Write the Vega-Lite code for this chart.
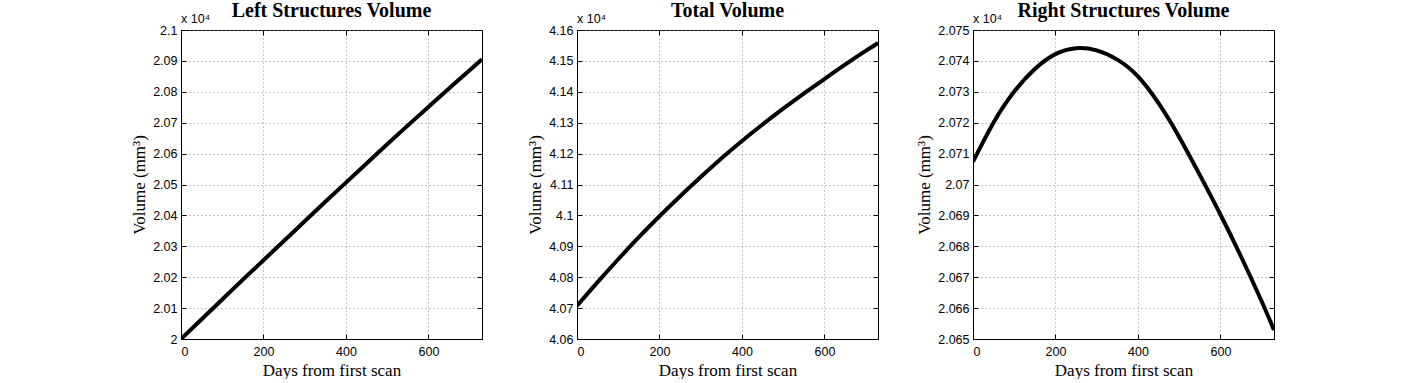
{
  "$schema": "https://vega.github.io/schema/vega-lite/v6.json",
  "background": "white",
  "padding": {"left": 130, "top": 0, "right": 0, "bottom": 0},
  "spacing": 95,
  "bounds": "flush",
  "config": {
    "view": {"stroke": "black", "strokeWidth": 1},
    "axis": {
      "domainColor": "black", "tickColor": "black", "labelColor": "black", "titleColor": "black",
      "labelFont": "Liberation Sans", "labelFontSize": 12.5,
      "titleFont": "Liberation Serif", "titleFontSize": 17, "titleFontWeight": "normal",
      "gridColor": "#8a8a8a", "gridDash": [1, 3], "gridOpacity": 1, "gridWidth": 1,
      "tickSize": -5, "labelPadding": 9, "titlePadding": 4
    },
    "axisX": {"labelPadding": 11, "titlePadding": 5},
    "title": {"font": "Liberation Serif", "fontSize": 20, "fontWeight": "bold", "color": "black", "anchor": "middle", "offset": -8}
  },
  "datasets": {
    "d": [
      {"day": 0, "left": 20000, "total": 40707.4, "right": 20707.4},
      {"day": 50, "left": 20064, "total": 40784.1, "right": 20720.1},
      {"day": 100, "left": 20128, "total": 40858.1, "right": 20730.1},
      {"day": 150, "left": 20192, "total": 40929.4, "right": 20737.4},
      {"day": 200, "left": 20255, "total": 40997.2, "right": 20742.2},
      {"day": 250, "left": 20318, "total": 41062.1, "right": 20744.1},
      {"day": 300, "left": 20381, "total": 41124.4, "right": 20743.4},
      {"day": 350, "left": 20444, "total": 41184.4, "right": 20740.4},
      {"day": 400, "left": 20506, "total": 41241.0, "right": 20735.0},
      {"day": 450, "left": 20568, "total": 41294.3, "right": 20726.3},
      {"day": 500, "left": 20630, "total": 41345.4, "right": 20715.4},
      {"day": 550, "left": 20691, "total": 41394.1, "right": 20703.1},
      {"day": 600, "left": 20751, "total": 41441.3, "right": 20690.3},
      {"day": 650, "left": 20811, "total": 41487.7, "right": 20676.7},
      {"day": 700, "left": 20870, "total": 41532.2, "right": 20662.2},
      {"day": 730, "left": 20905, "total": 41557.9, "right": 20652.9}
    ],
    "m1": [{"day": 0, "v": 21000}],
    "m2": [{"day": 0, "v": 41600}],
    "m3": [{"day": 0, "v": 20750}]
  },
  "hconcat": [
    {
      "width": 301, "height": 309,
      "title": "Left Structures Volume",
      "layer": [
        {
          "data": {"name": "d"},
          "mark": {"type": "line", "color": "black", "strokeWidth": 4, "interpolate": "natural", "clip": true},
          "encoding": {
            "x": {"field": "day", "type": "quantitative", "scale": {"domain": [0, 730], "nice": false, "zero": false},
                  "axis": {"orient": "bottom", "values": [0, 200, 400, 600], "title": "Days from first scan", "grid": true}},
            "y": {"field": "left", "type": "quantitative", "scale": {"domain": [20000, 21000], "nice": false, "zero": false},
                  "axis": {"orient": "left", "values": [20000, 20100, 20200, 20300, 20400, 20500, 20600, 20700, 20800, 20900, 21000],
                           "labelExpr": "format(datum.value / 10000, '.4~g')", "title": "Volume (mm³)", "grid": true}}
          }
        },
        {
          "data": {"name": "m1"},
          "mark": {"type": "text", "text": "x 10⁴", "align": "left", "baseline": "alphabetic", "dy": -7, "font": "Liberation Sans", "fontSize": 12.5, "color": "black"},
          "encoding": {
            "x": {"field": "day", "type": "quantitative",
                  "axis": {"orient": "top", "values": [0, 200, 400, 600], "labels": false, "title": null, "grid": false, "domain": false}},
            "y": {"field": "v", "type": "quantitative",
                  "axis": {"orient": "right", "values": [20000, 20100, 20200, 20300, 20400, 20500, 20600, 20700, 20800, 20900, 21000], "labels": false, "title": null, "grid": false, "domain": false}}
          }
        }
      ],
      "resolve": {"axis": {"x": "independent", "y": "independent"}}
    },
    {
      "width": 301, "height": 309,
      "title": "Total Volume",
      "layer": [
        {
          "data": {"name": "d"},
          "mark": {"type": "line", "color": "black", "strokeWidth": 4, "interpolate": "natural", "clip": true},
          "encoding": {
            "x": {"field": "day", "type": "quantitative", "scale": {"domain": [0, 730], "nice": false, "zero": false},
                  "axis": {"orient": "bottom", "values": [0, 200, 400, 600], "title": "Days from first scan", "grid": true}},
            "y": {"field": "total", "type": "quantitative", "scale": {"domain": [40600, 41600], "nice": false, "zero": false},
                  "axis": {"orient": "left", "values": [40600, 40700, 40800, 40900, 41000, 41100, 41200, 41300, 41400, 41500, 41600],
                           "labelExpr": "format(datum.value / 10000, '.4~g')", "title": "Volume (mm³)", "grid": true}}
          }
        },
        {
          "data": {"name": "m2"},
          "mark": {"type": "text", "text": "x 10⁴", "align": "left", "baseline": "alphabetic", "dy": -7, "font": "Liberation Sans", "fontSize": 12.5, "color": "black"},
          "encoding": {
            "x": {"field": "day", "type": "quantitative",
                  "axis": {"orient": "top", "values": [0, 200, 400, 600], "labels": false, "title": null, "grid": false, "domain": false}},
            "y": {"field": "v", "type": "quantitative",
                  "axis": {"orient": "right", "values": [40600, 40700, 40800, 40900, 41000, 41100, 41200, 41300, 41400, 41500, 41600], "labels": false, "title": null, "grid": false, "domain": false}}
          }
        }
      ],
      "resolve": {"axis": {"x": "independent", "y": "independent"}}
    },
    {
      "width": 301, "height": 309,
      "title": "Right Structures Volume",
      "layer": [
        {
          "data": {"name": "d"},
          "mark": {"type": "line", "color": "black", "strokeWidth": 4, "interpolate": "natural", "clip": true},
          "encoding": {
            "x": {"field": "day", "type": "quantitative", "scale": {"domain": [0, 730], "nice": false, "zero": false},
                  "axis": {"orient": "bottom", "values": [0, 200, 400, 600], "title": "Days from first scan", "grid": true}},
            "y": {"field": "right", "type": "quantitative", "scale": {"domain": [20650, 20750], "nice": false, "zero": false},
                  "axis": {"orient": "left", "values": [20650, 20660, 20670, 20680, 20690, 20700, 20710, 20720, 20730, 20740, 20750],
                           "labelExpr": "format(datum.value / 10000, '.4~g')", "title": "Volume (mm³)", "grid": true}}
          }
        },
        {
          "data": {"name": "m3"},
          "mark": {"type": "text", "text": "x 10⁴", "align": "left", "baseline": "alphabetic", "dy": -7, "font": "Liberation Sans", "fontSize": 12.5, "color": "black"},
          "encoding": {
            "x": {"field": "day", "type": "quantitative",
                  "axis": {"orient": "top", "values": [0, 200, 400, 600], "labels": false, "title": null, "grid": false, "domain": false}},
            "y": {"field": "v", "type": "quantitative",
                  "axis": {"orient": "right", "values": [20650, 20660, 20670, 20680, 20690, 20700, 20710, 20720, 20730, 20740, 20750], "labels": false, "title": null, "grid": false, "domain": false}}
          }
        }
      ],
      "resolve": {"axis": {"x": "independent", "y": "independent"}}
    }
  ]
}
